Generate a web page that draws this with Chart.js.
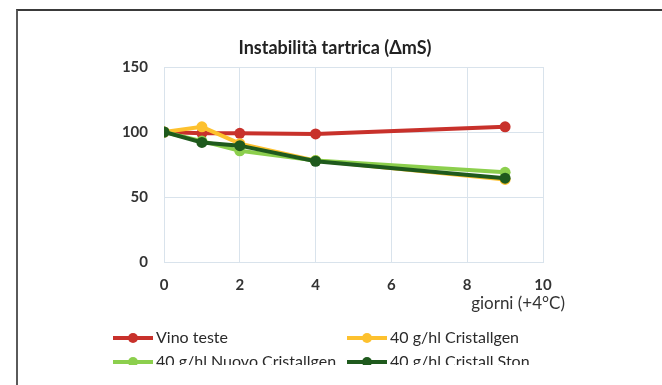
<!DOCTYPE html>
<html>
<head>
<meta charset="utf-8">
<script src="https://cdn.jsdelivr.net/npm/chart.js@4"></script>
<style>
  html, body { margin: 0; padding: 0; background: #fff; }
  #clip { position: absolute; left: 0; top: 0; width: 662px; height: 365px; overflow: hidden; }
  #frame { position: absolute; left: 16px; top: 9px; width: 660px; height: 400px;
           border-left: 2px solid #5a5a5a; border-top: 2px solid #3a3a3a; }
</style>
</head>
<body>
<div id="clip"><canvas id="chart" width="662" height="385"></canvas></div>
<div id="frame"></div>
<script>
const days = [0, 1, 2, 4, 9];
const seriesNames = ["Vino teste", "40 g/hl Cristallgen", "40 g/hl Nuovo Cristallgen", "40 g/hl Cristall Ston"];
const vinoTeste = [100, 99, 99, 98.5, 104];
const cristallgen = [100, 104, 91, 78, 63.5];
const nuovoCristallgen = [100, 93, 85.5, 78, 69];
const cristallStor = [100, 92, 89.5, 77.5, 64.5];
const yTicks = [0, 50, 100, 150];
const xTicks = [0, 2, 4, 6, 8, 10];
const colors = ["#c8312b", "#fdc12e", "#8ccf4d", "#1f5a1d"];
const chartTitle = "Instabilità tartrica (ΔmS)";

const values = [vinoTeste, cristallgen, nuovoCristallgen, cristallStor];
const stack = [3, 2, 1, 0];

const ctx = document.getElementById("chart");

const extras = {
    id: "extras",
    afterDraw(chart) {
        const c = chart.ctx;
        const area = chart.chartArea;
        c.save();
        c.textBaseline = "middle";

        // title, a bit right of the canvas centre like the original
        c.font = "bold 18px Lato";
        c.fillStyle = "#222";
        c.textAlign = "center";
        c.fillText(chartTitle, 335, 48);

        // axis title at the right, under the ticks
        c.font = "17px Lato";
        c.fillStyle = "#333";
        c.textAlign = "right";
        c.fillText("giorni (+4°C)", area.right + 22, 304);

        // legend in two columns
        const cols = [113, 347];
        const rows = [338, 362];
        c.font = "16px Lato";
        c.textAlign = "left";
        chart.data.datasets.forEach((ds, i) => {
            const x = cols[i % 2];
            const y = rows[Math.floor(i / 2)];
            c.strokeStyle = ds.borderColor;
            c.lineWidth = 4;
            c.beginPath();
            c.moveTo(x, y);
            c.lineTo(x + 40, y);
            c.stroke();
            c.fillStyle = ds.borderColor;
            c.beginPath();
            c.arc(x + 20, y, 5, 0, Math.PI * 2);
            c.fill();
            c.fillStyle = "#2a2a2a";
            c.fillText(ds.label, x + 43, y);
        });
        c.restore();
    }
};

new Chart(ctx, {
    type: "line",
    data: {
        datasets: seriesNames.map((name, i) => ({
            label: name,
            data: days.map((d, j) => ({ x: d, y: values[i][j] })),
            borderColor: colors[i],
            backgroundColor: colors[i],
            borderWidth: 4,
            pointRadius: 5.5,
            pointBorderWidth: 0,
            order: stack[i],
            tension: 0
        }))
    },
    options: {
        responsive: false,
        animation: false,
        layout: { padding: { left: 100, right: 119, top: 67, bottom: 0 } },
        plugins: {
            legend: { display: false },
            tooltip: { enabled: false },
            title: { display: false }
        },
        scales: {
            x: {
                type: "linear",
                min: 0,
                max: 10,
                afterBuildTicks: axis => { axis.ticks = xTicks.map(v => ({ value: v })); },
                afterFit: axis => { axis.height = 123; },
                grid: { color: "#d9e3ec", lineWidth: 1, drawTicks: false },
                border: { color: "#d9e3ec" },
                ticks: {
                    color: "#333",
                    padding: 14,
                    font: { family: "Lato", size: 15, weight: "bold" }
                }
            },
            y: {
                min: 0,
                max: 150,
                afterBuildTicks: axis => { axis.ticks = yTicks.map(v => ({ value: v })); },
                afterFit: axis => { axis.width = 64; },
                grid: { color: "#d9e3ec", lineWidth: 1, drawTicks: false },
                border: { color: "#d9e3ec" },
                ticks: {
                    color: "#333",
                    padding: 16,
                    font: { family: "Lato", size: 15, weight: "bold" }
                }
            }
        }
    },
    plugins: [extras]
});
</script>
</body>
</html>
